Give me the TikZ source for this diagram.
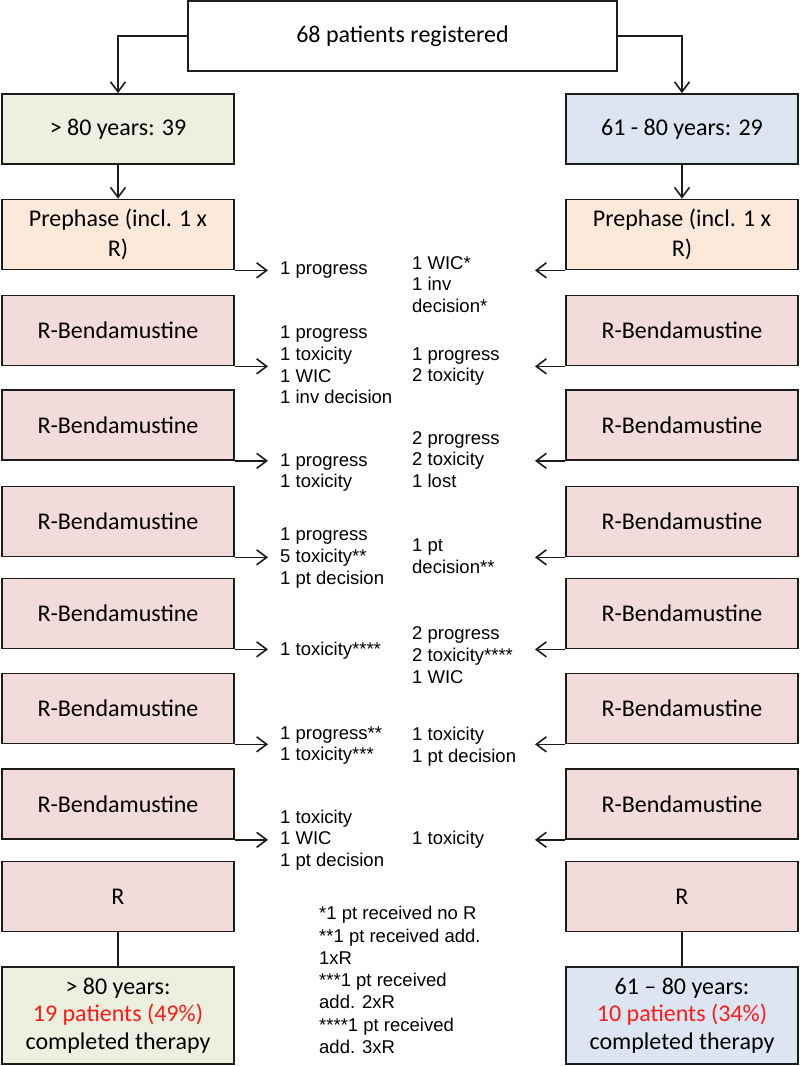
\documentclass[tikz,border=0pt]{standalone}
\usepackage{fontspec}
\setmainfont{Carlito}
\newfontfamily\notefont{Liberation Sans}
\usetikzlibrary{arrows.meta,positioning}
\definecolor{agegreen}{HTML}{EBF1DE}
\definecolor{ageblue}{HTML}{DCE6F2}
\definecolor{prepeach}{HTML}{FDE9D9}
\definecolor{cyclepink}{HTML}{F2DCDB}
\definecolor{donered}{HTML}{FF1A1A}
\definecolor{edge}{HTML}{1C1C1C}

\begin{document}
\begin{tikzpicture}[x=1pt,y=-1pt,
  box/.style={draw=edge,line width=1.7pt,minimum width=232pt,minimum height=70pt,
    inner sep=2pt,align=center,font=\fontsize{24}{29.5}\selectfont},
  flow/.style={draw=edge,line width=1.6pt,-{Straight Barb[length=10pt,width=15pt]}},
  link/.style={draw=edge,line width=1.6pt},
  note/.style={anchor=west,inner xsep=12pt,inner ysep=0pt,align=left,
    font=\notefont\fontsize{18.5}{21.7}\selectfont}]
  \useasboundingbox (0,0) rectangle (800,1066);

  % arrow tip columns
  \coordinate (ltip) at (268,0);
  \coordinate (rtip) at (535,0);

  % Registration
  \node[box,minimum width=429pt] (reg) at (402.5,36) {68 patients registered};

  % Age groups
  \node[box,fill=agegreen] (old) at (118,129) {> 80 years: 39};
  \node[box,fill=ageblue] (young) at (682,129) {61 - 80 years: 29};
  \draw[flow] (reg.west) -| (old.north);
  \draw[flow] (reg.east) -| (young.north);

  % Prephase
  \node[box,fill=prepeach] (Lpre) at (118,234.5) {Prephase (incl. 1 x\\R)};
  \node[box,fill=prepeach] (Rpre) at (682,234.5) {Prephase (incl. 1 x\\R)};
  \draw[flow] (old) -- (Lpre);
  \draw[flow] (young) -- (Rpre);

  % R-Bendamustine cycles, > 80 years
  \node[box,fill=cyclepink] (L1) at (118,330.5) {R-Bendamustine};
  \node[box,fill=cyclepink] (L2) at (118,425) {R-Bendamustine};
  \node[box,fill=cyclepink] (L3) at (118,521.5) {R-Bendamustine};
  \node[box,fill=cyclepink] (L4) at (118,613.5) {R-Bendamustine};
  \node[box,fill=cyclepink] (L5) at (118,708.5) {R-Bendamustine};
  \node[box,fill=cyclepink] (L6) at (118,804) {R-Bendamustine};
  \node[box,fill=cyclepink] (LR) at (118,896.5) {R};

  % R-Bendamustine cycles, 61 - 80 years
  \node[box,fill=cyclepink] (R1) at (682,330.5) {R-Bendamustine};
  \node[box,fill=cyclepink] (R2) at (682,425) {R-Bendamustine};
  \node[box,fill=cyclepink] (R3) at (682,521.5) {R-Bendamustine};
  \node[box,fill=cyclepink] (R4) at (682,613.5) {R-Bendamustine};
  \node[box,fill=cyclepink] (R5) at (682,708.5) {R-Bendamustine};
  \node[box,fill=cyclepink] (R6) at (682,804) {R-Bendamustine};
  \node[box,fill=cyclepink] (RR) at (682,896.5) {R};

  % Completed therapy
  \node[box,fill=agegreen,minimum height=97pt,font=\fontsize{24}{27.5}\selectfont] (Lend) at (118,1015.5)
    {> 80 years:\\\textcolor{donered}{19 patients (49\%)}\\completed therapy};
  \node[box,fill=ageblue,minimum height=97pt,font=\fontsize{24}{27.5}\selectfont] (Rend) at (682,1015.5)
    {61 – 80 years:\\\textcolor{donered}{10 patients (34\%)}\\completed therapy};
  \draw[link] (LR) -- (Lend);
  \draw[link] (RR) -- (Rend);

  % Drop-outs, > 80 years
  \node[note] (lnA) at (268,270) {1 progress};
  \node[note] (lnB) at (268,365) {1 progress\\1 toxicity\\1 WIC\\1 inv decision};
  \node[note] (lnC) at (268,472.5) {1 progress\\1 toxicity};
  \node[note] (lnD) at (268,558) {1 progress\\5 toxicity**\\1 pt decision};
  \node[note] (lnE) at (268,651) {1 toxicity****};
  \node[note] (lnF) at (268,745.5) {1 progress**\\1 toxicity***};
  \node[note] (lnG) at (268,840) {1 toxicity\\1 WIC\\1 pt decision};
  \draw[flow] (Lpre.south east) -- (Lpre.south east -| ltip);
  \draw[flow] (L1.south east) -- (L1.south east -| ltip);
  \draw[flow] (L2.south east) -- (L2.south east -| ltip);
  \draw[flow] (L3.south east) -- (L3.south east -| ltip);
  \draw[flow] (L4.south east) -- (L4.south east -| ltip);
  \draw[flow] (L5.south east) -- (L5.south east -| ltip);
  \draw[flow] (L6.south east) -- (L6.south east -| ltip);

  % Drop-outs, 61 - 80 years
  \node[note] (rnA) at (400,284.5) {1 WIC*\\1 inv\\decision*};
  \node[note] (rnB) at (400,366.5) {1 progress\\2 toxicity};
  \node[note] (rnC) at (400,459.5) {2 progress\\2 toxicity\\1 lost};
  \node[note] (rnD) at (400,556.5) {1 pt\\decision**};
  \node[note] (rnE) at (400,655) {2 progress\\2 toxicity****\\1 WIC};
  \node[note] (rnF) at (400,746.5) {1 toxicity\\1 pt decision};
  \node[note] (rnG) at (400,840) {1 toxicity};
  \draw[flow] (Rpre.south west) -- (Rpre.south west -| rtip);
  \draw[flow] (R1.south west) -- (R1.south west -| rtip);
  \draw[flow] (R2.south west) -- (R2.south west -| rtip);
  \draw[flow] (R3.south west) -- (R3.south west -| rtip);
  \draw[flow] (R4.south west) -- (R4.south west -| rtip);
  \draw[flow] (R5.south west) -- (R5.south west -| rtip);
  \draw[flow] (R6.south west) -- (R6.south west -| rtip);

  % Footnotes
  \node[note,inner xsep=0pt,font=\notefont\fontsize{18.5}{22.3}\selectfont] (foot) at (319,980)
    {*1 pt received no R\\**1 pt received add.\\1xR\\***1 pt received\\add. 2xR\\****1 pt received\\add. 3xR};
\end{tikzpicture}
\end{document}
